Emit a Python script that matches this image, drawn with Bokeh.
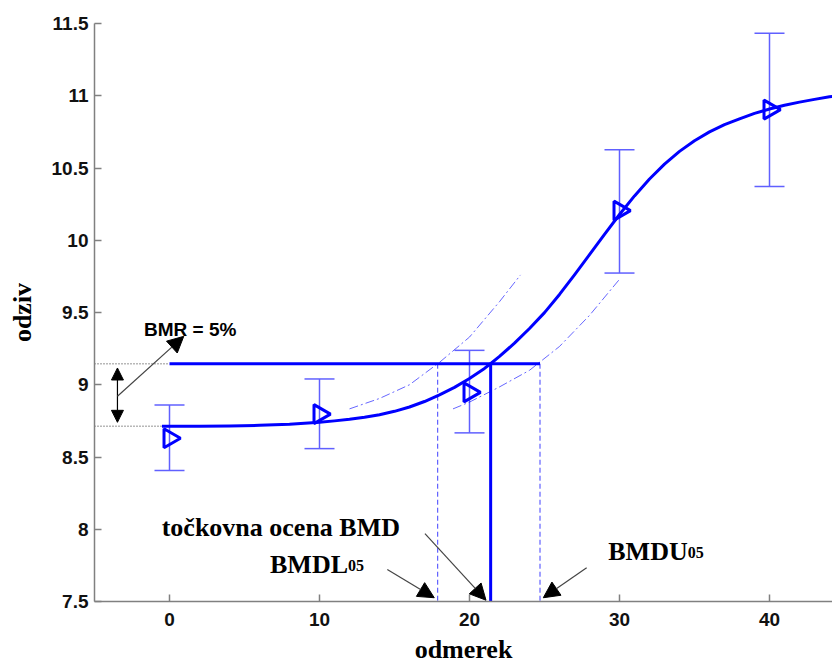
import numpy as np
from bokeh.plotting import figure
from bokeh.models import (Range1d, FixedTicker, Whisker, TeeHead, Arrow, NormalHead,
                          ColumnDataSource, Label)
from bokeh.embed import file_html
from bokeh.resources import INLINE

# ---- data ----
dose = [0, 10, 20, 30, 40]
resp_mean = [8.63, 8.797, 8.947, 10.205, 10.904]
resp_upper = [8.86, 9.04, 9.238, 10.626, 11.433]
resp_lower = [8.406, 8.558, 8.667, 9.773, 10.372]

fit_x = [-0.5, 0, 2, 4, 6, 8, 10, 11, 12, 13, 14, 15, 16, 17, 18, 19, 20, 21, 21.4,
         22, 23, 24, 25, 26, 27, 28, 29, 30, 31, 32, 33, 34, 35, 36, 37, 38, 39, 40,
         41, 42, 43, 44, 44.2]
fit_y = [8.712, 8.712, 8.713, 8.715, 8.719, 8.727, 8.740, 8.750, 8.761, 8.775, 8.793,
         8.816, 8.846, 8.884, 8.930, 8.982, 9.043, 9.113, 9.1455,
         9.196, 9.288, 9.389, 9.499, 9.625, 9.760, 9.900, 10.041, 10.178, 10.307, 10.424,
         10.527, 10.615, 10.689, 10.750, 10.800, 10.840, 10.878, 10.908,
         10.934, 10.956, 10.975, 10.993, 10.996]

cl_up_x = [12, 14, 16, 18, 20, 22, 23.4]
cl_up_y = [8.833, 8.905, 9.0, 9.155, 9.33, 9.575, 9.76]
cl_lo_x = [18.9, 20, 22, 24, 26, 28, 30]
cl_lo_y = [8.833, 8.88, 8.985, 9.10, 9.265, 9.48, 9.73]

background = 8.712
bmr_level = 9.1455
bmd = 21.41
bmdl = 17.88
bmdu = 24.7

x_ticks = [0, 10, 20, 30, 40]
y_ticks = [7.5, 8, 8.5, 9, 9.5, 10, 10.5, 11, 11.5]
y_tick_labels = ["7.5", "8", "8.5", "9", "9.5", "10", "10.5", "11", "11.5"]

X0, X1 = -5.0, 44.2
Y0, Y1 = 7.5, 11.5

BLUE = "#0000ff"

p = figure(width=832, height=666, x_range=Range1d(X0, X1), y_range=Range1d(Y0, Y1),
           output_backend="svg", toolbar_location=None,
           min_border_left=94, min_border_right=0, min_border_top=23, min_border_bottom=64)
p.outline_line_color = None
p.grid.visible = False
p.background_fill_color = "white"
p.border_fill_color = "white"

for ax in (p.xaxis[0], p.yaxis[0]):
    ax.axis_line_color = "#808080"
    ax.axis_line_width = 1.5
    ax.major_tick_line_color = "#808080"
    ax.major_tick_line_width = 1.5
    ax.major_tick_in = 7
    ax.major_tick_out = 0
    ax.minor_tick_in = 0
    ax.minor_tick_out = 0
    ax.major_label_text_font = "Liberation Sans"
    ax.major_label_text_font_style = "bold"
    ax.major_label_text_font_size = "19px"
    ax.major_label_text_color = "#111111"
    ax.axis_label_text_font = "Liberation Serif"
    ax.axis_label_text_font_style = "bold"
    ax.axis_label_text_font_size = "26px"
    ax.axis_label_text_color = "black"

p.xaxis.ticker = FixedTicker(ticks=x_ticks)
p.yaxis.ticker = FixedTicker(ticks=y_ticks)
p.yaxis.major_label_overrides = {t: l for t, l in zip(y_ticks, y_tick_labels)}
p.xaxis.axis_label = "odmerek"
p.yaxis.axis_label = "odziv"
p.xaxis.major_label_standoff = 11
p.yaxis.major_label_standoff = 6
p.xaxis.axis_label_standoff = 6
p.yaxis.axis_label_standoff = 12

# error bars
src = ColumnDataSource(dict(x=dose, m=resp_mean, up=resp_upper, lo=resp_lower))
wh = Whisker(base="x", upper="up", lower="lo", source=src,
             line_color="#6060ff", line_width=1.5,
             upper_head=TeeHead(size=30, line_color="#6060ff", line_width=1.5),
             lower_head=TeeHead(size=30, line_color="#6060ff", line_width=1.5))
p.add_layout(wh)

# gray dotted reference lines
p.segment(x0=[X0, X0], y0=[bmr_level, background], x1=[dose[0], fit_x[0]],
          y1=[bmr_level, background], line_color="#707070", line_width=1.5, line_dash="1 2")

# confidence bands
p.line(cl_up_x, cl_up_y, line_color=BLUE, line_alpha=0.6, line_width=1, line_dash="9 3 2 3")
p.line(cl_lo_x, cl_lo_y, line_color=BLUE, line_alpha=0.6, line_width=1, line_dash="9 3 2 3")

# BMDL / BMDU dashed verticals
p.segment(x0=[bmdl, bmdu], y0=[bmr_level, bmr_level], x1=[bmdl, bmdu], y1=[Y0, Y0],
          line_color=BLUE, line_alpha=0.75, line_width=1, line_dash="5 3")

# BMR horizontal and BMD vertical
p.segment(x0=[dose[0]], y0=[bmr_level], x1=[bmdu], y1=[bmr_level], line_color=BLUE, line_width=3)
p.segment(x0=[bmd], y0=[bmr_level], x1=[bmd], y1=[Y0], line_color=BLUE, line_width=3)

# fitted curve
p.line(fit_x, fit_y, line_color=BLUE, line_width=3, line_join="round")

# markers
p.scatter("x", "m", source=src, marker="triangle", angle=-np.pi / 2, size=19,
          fill_color=None, line_color=BLUE, line_width=3)

# arrows
def arrow(xs, ys, xe, ye, size=16, both=False, color="#444444"):
    head = lambda: NormalHead(size=size, fill_color="black", line_color="black", line_width=1)
    a = Arrow(x_start=xs, y_start=ys, x_end=xe, y_end=ye, line_color=color, line_width=1.2,
              end=head(), start=head() if both else None)
    p.add_layout(a)

arrow(-3.47, 8.74, -3.47, 9.116, size=12, both=True, color="black")
arrow(-3.47, 8.92, 0.95, 9.335, size=16)
arrow(14.52, 7.721, 17.65, 7.526)
arrow(17.03, 7.97, 21.1, 7.509)
arrow(27.81, 7.733, 24.92, 7.526)

# texts
def label(x, y, text, size, font="Liberation Serif"):
    p.add_layout(Label(x=x, y=y, text=text, text_font=font, text_font_style="bold",
                       text_font_size=size, text_color="black", text_baseline="alphabetic",
                       text_align="left"))

label(-1.70, 9.385, "BMR = 5%", "19px", font="Liberation Sans")
label(-0.52, 8.01, "točkovna ocena BMD", "26px")
label(6.70, 7.756, "BMDL", "26px")
label(11.90, 7.750, "05", "16px")
label(29.25, 7.848, "BMDU", "26px")
label(34.55, 7.842, "05", "16px")

open("out.html", "w").write(file_html(p, INLINE))
